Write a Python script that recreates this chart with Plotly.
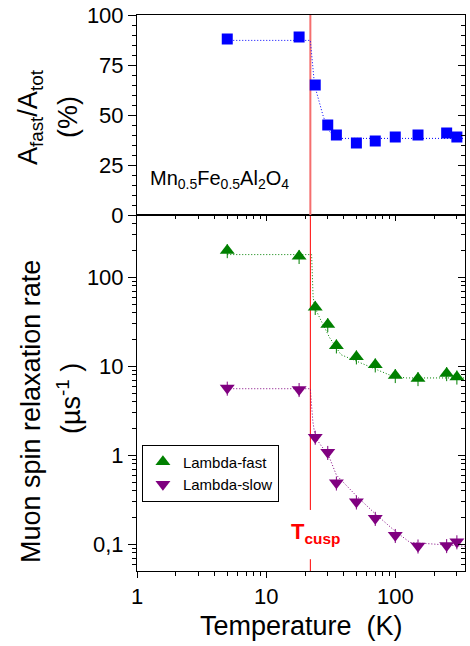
import plotly.graph_objects as go

# ---------------- data ----------------
T = [5, 18, 24, 30, 35, 50, 70, 100, 150, 250, 300]
A_ratio = [88, 89, 65, 45, 40, 36, 37, 39, 40, 41, 39]
lambda_fast = [200, 172, 46, 29.5, 17, 12.8, 10.4, 7.9, 7.3, 8.3, 7.6]
lambda_slow = [5.7, 5.5, 1.6, 1.08, 0.49, 0.30, 0.196, 0.126, 0.096, 0.097, 0.107]
err_pct = 18

T_fit_A = [5, 22, 23.7, 27.5, 30, 33, 37, 346]
A_fit = [87.3, 87.3, 65, 50, 43, 39.5, 38.3, 38.3]
T_fit_fast = [5, 22.5, 23.1, 23.8, 26, 31, 38, 50, 71, 96, 122, 346]
fast_fit = [180, 180, 61, 46, 35, 21, 13.5, 11.4, 9.2, 7.7, 7.4, 7.4]
T_fit_slow = [5, 22, 22.4, 23, 24, 27, 30, 35, 50, 70, 100, 130, 346]
slow_fit = [5.6, 5.6, 3.9, 2.4, 1.6, 1.25, 1.05, 0.6, 0.35, 0.22, 0.14, 0.105, 0.095]

T_cusp = 22
x_ticks = [1, 10, 100]
x_ticktext = ["1", "10", "100"]
y_log_ticks = [0.1, 1, 10, 100]
y_log_ticktext = ["0,1", "1", "10", "100"]
y_lin_ticks = [0, 25, 50, 75, 100]

FONT = "Liberation Sans, Arial, sans-serif"
BLUE = "#0000FF"
GREEN = "#008000"
PURPLE = "#800080"
DOT = "1px,2px"

x_minor = [m * 10 ** e for e in range(0, 3) for m in range(2, 10)]
y_minor = [m * 10 ** e for e in range(-2, 3) for m in range(2, 10)]

fig = go.Figure()

# ---- top panel ----
fig.add_trace(go.Scatter(x=[T_cusp, T_cusp], y=[0, 100], mode="lines",
                         line=dict(color="rgb(245,110,110)", width=2),
                         xaxis="x2", yaxis="y2", showlegend=False, hoverinfo="skip"))
fig.add_trace(go.Scatter(x=T_fit_A, y=A_fit, mode="lines",
                         line=dict(color=BLUE, width=1, dash=DOT),
                         xaxis="x2", yaxis="y2", showlegend=False))
fig.add_trace(go.Scatter(x=T, y=A_ratio, mode="markers",
                         marker=dict(symbol="square", size=11, color=BLUE),
                         xaxis="x2", yaxis="y2", showlegend=False))

# ---- bottom panel ----
fig.add_trace(go.Scatter(x=[T_cusp, T_cusp, None, T_cusp, T_cusp],
                         y=[0.04, 0.068, None, 0.243, 700], mode="lines",
                         line=dict(color="#FF0000", width=1),
                         xaxis="x", yaxis="y", showlegend=False, hoverinfo="skip"))
fig.add_trace(go.Scatter(x=T_fit_fast, y=fast_fit, mode="lines",
                         line=dict(color=GREEN, width=1, dash=DOT),
                         xaxis="x", yaxis="y", showlegend=False))
fig.add_trace(go.Scatter(x=T_fit_slow, y=slow_fit, mode="lines",
                         line=dict(color=PURPLE, width=1, dash=DOT),
                         xaxis="x", yaxis="y", showlegend=False))
fig.add_trace(go.Scatter(x=T, y=lambda_fast, mode="markers", name="Lambda-fast",
                         marker=dict(symbol="triangle-up", size=13, color=GREEN),
                         error_y=dict(type="percent", value=err_pct, color=GREEN,
                                      thickness=1, width=0),
                         xaxis="x", yaxis="y"))
fig.add_trace(go.Scatter(x=T, y=lambda_slow, mode="markers", name="Lambda-slow",
                         marker=dict(symbol="triangle-down", size=13, color=PURPLE),
                         error_y=dict(type="percent", value=err_pct, color=PURPLE,
                                      thickness=1, width=0),
                         xaxis="x", yaxis="y"))

# dummy traces to hold mirror axes
fig.add_trace(go.Scatter(x=[None], y=[None], xaxis="x", yaxis="y3", showlegend=False))
fig.add_trace(go.Scatter(x=[None], y=[None], xaxis="x2", yaxis="y4", showlegend=False))
fig.add_trace(go.Scatter(x=[None], y=[None], xaxis="x3", yaxis="y", showlegend=False))
fig.add_trace(go.Scatter(x=[None], y=[None], xaxis="x4", yaxis="y2", showlegend=False))

XR = [0, 2.54]
YLR = [-1.30, 2.70]
split = (571 - 215) / 556

tickfont = dict(family=FONT, size=22, color="black")
common_line = dict(showline=True, linecolor="black", linewidth=1, showgrid=False,
                   zeroline=False, automargin=False, ticklabeloverflow="allow")

fig.update_layout(
    width=470, height=646,
    margin=dict(l=137, r=5, t=15, b=75, autoexpand=False),
    paper_bgcolor="white", plot_bgcolor="white",
    font=dict(family=FONT, color="black"),
    xaxis=dict(type="log", range=XR, anchor="y", domain=[0, 1],
               tickmode="array", tickvals=x_ticks, ticktext=x_ticktext,
               ticks="outside", ticklen=6, tickwidth=1, tickcolor="black",
               minor=dict(tickmode="array", tickvals=x_minor, ticks="outside",
                          ticklen=4, tickcolor="black", showgrid=False),
               tickfont=tickfont, **common_line),
    yaxis=dict(type="log", range=YLR, anchor="x", domain=[0, split],
               tickmode="array", tickvals=y_log_ticks, ticktext=y_log_ticktext,
               ticks="outside", ticklen=8, tickwidth=1, tickcolor="black",
               minor=dict(tickmode="array", tickvals=y_minor, ticks="outside",
                          ticklen=4, tickcolor="black", showgrid=False),
               tickfont=tickfont, **common_line),
    xaxis2=dict(type="log", range=XR, anchor="y2", domain=[0, 1],
                showticklabels=False, ticks="", mirror=True, **common_line),
    xaxis4=dict(type="log", range=XR, overlaying="x2", side="top", anchor="y2",
                showticklabels=False, ticks="", **common_line),
    yaxis2=dict(range=[0, 100], anchor="x2", domain=[split, 1],
                tickmode="array", tickvals=y_lin_ticks,
                ticks="outside", ticklen=8, tickwidth=1, tickcolor="black",
                minor=dict(dtick=5, ticks="outside", ticklen=4, tickcolor="black",
                           showgrid=False),
                tickfont=tickfont, **common_line),
    yaxis3=dict(type="log", range=YLR, overlaying="y", side="right", anchor="x",
                tickmode="array", tickvals=y_log_ticks, showticklabels=False,
                ticks="inside", ticklen=7, tickcolor="black",
                minor=dict(tickmode="array", tickvals=y_minor, ticks="inside",
                           ticklen=4, tickcolor="black", showgrid=False),
                **common_line),
    yaxis4=dict(range=[0, 100], overlaying="y2", side="right", anchor="x2",
                tickmode="array", tickvals=y_lin_ticks, showticklabels=False,
                ticks="inside", ticklen=7, tickcolor="black",
                minor=dict(dtick=5, ticks="inside", ticklen=4, tickcolor="black",
                           showgrid=False),
                **common_line),
    xaxis3=dict(type="log", range=XR, overlaying="x", side="top", anchor="y",
                tickmode="array", tickvals=x_ticks, showticklabels=False,
                ticks="inside", ticklen=6, tickcolor="black",
                minor=dict(tickmode="array", tickvals=x_minor, ticks="inside",
                           ticklen=4, tickcolor="black", showgrid=False),
                **common_line),
    legend=dict(x=0.015, y=0.2275, xanchor="left", yanchor="top",
                xref="paper", yref="paper",
                bordercolor="black", borderwidth=1, bgcolor="white",
                font=dict(family=FONT, size=15, color="black"),
                tracegroupgap=0),
    showlegend=True,
)

ann_font = dict(family=FONT, size=27, color="black")
annotations = [
    dict(text="A<sub>fast</sub>/A<sub>tot</sub>", x=-0.326, y=0.8165, textangle=-90),
    dict(text="(%)", x=-0.2105, y=0.8165, textangle=-90),
    dict(text="Muon spin relaxation rate", x=-0.3232, y=0.2878, textangle=-90),
    dict(text="(\u00b5s<sup>-1</sup> )", x=-0.2074, y=0.311, textangle=-90),
    dict(text="Temperature\u00a0 (K)", x=0.5, y=-0.0989, textangle=0),
]
for a in annotations:
    fig.add_annotation(xref="paper", yref="paper", xanchor="center", yanchor="middle",
                       showarrow=False, font=ann_font, **a)

fig.add_annotation(text="Mn<sub>0.5</sub>Fe<sub>0.5</sub>Al<sub>2</sub>O<sub>4</sub>",
                   xref="paper", yref="y2", x=0.0335, y=18, xanchor="left",
                   yanchor="middle", showarrow=False,
                   font=dict(family=FONT, size=20, color="black"))
fig.add_annotation(text="<b>T<sub>cusp</sub></b>",
                   xref="paper", yref="paper", x=0.4634, y=0.0683, xanchor="left",
                   yanchor="middle", showarrow=False,
                   font=dict(family=FONT, size=22, color="#FF0000"))

fig.write_html("out.html",
               config={"displayModeBar": False},
               post_script="document.body.style.margin='0';"
                           "document.body.style.overflow='hidden';")
